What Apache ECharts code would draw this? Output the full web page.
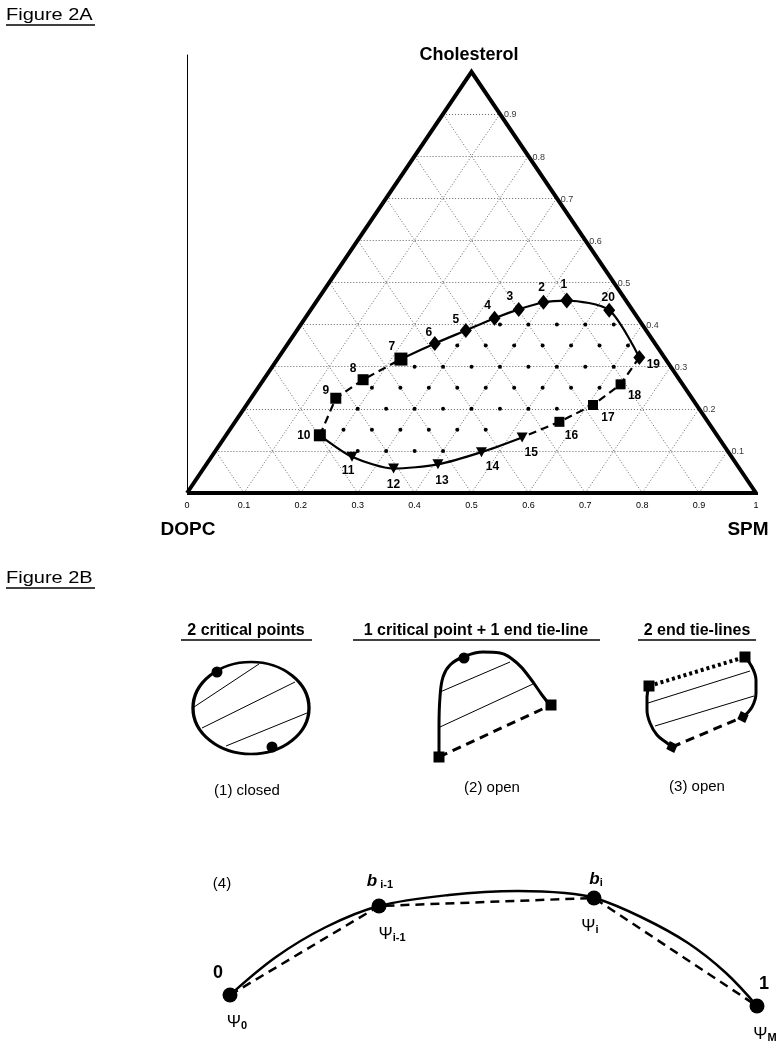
<!DOCTYPE html>
<html><head><meta charset="utf-8">
<script src="https://cdn.jsdelivr.net/npm/echarts@6/dist/echarts.min.js"></script>
<style>html,body{margin:0;padding:0;background:#fff}#c{width:781px;height:1050px}</style>
</head><body><div id="c"></div>
<script>
// ================= Figure 2A data =================
// compositions of the numbered boundary points: SPM fraction and Cholesterol fraction
const pointIds  = [1,2,3,4,5,6,7,8,9,10,11,12,13,14,15,16,17,18,19,20];
const pointSPM  = [0.439,0.400,0.365,0.333,0.297,0.258,0.217,0.175,0.149,0.165,0.247,0.334,0.407,0.469,0.523,0.570,0.609,0.633,0.634,0.525];
const pointChol = [0.457,0.453,0.436,0.415,0.386,0.355,0.318,0.269,0.225,0.137,0.086,0.058,0.068,0.097,0.132,0.169,0.209,0.258,0.322,0.434];
const diamondIds  = [1,2,3,4,5,6,19,20];
const squareIds   = [7,8,9,10,16,17,18];
const triangleIds = [11,12,13,14,15];
const solidUpperPath  = [7,6,5,4,3,2,1,20,19];
const dashedRightPath = [19,18,17,16,15];
const solidLowerPath  = [15,14,13,12,11,10];
const dashedLeftPath  = [10,9,8,7];
// sampled compositions inside the region (small dots): rows by cholesterol
const dotRowChol = [0.40, 0.35, 0.30, 0.25, 0.20, 0.15, 0.10];
const dotRowSPM = [
  [0.35,0.40,0.45,0.50,0.55],
  [0.30,0.35,0.40,0.45,0.50,0.55,0.60],
  [0.25,0.30,0.35,0.40,0.45,0.50,0.55,0.60],
  [0.20,0.25,0.30,0.35,0.40,0.45,0.50,0.55,0.60],
  [0.20,0.25,0.30,0.35,0.40,0.45,0.50,0.55],
  [0.20,0.25,0.30,0.35,0.40,0.45],
  [0.25,0.30,0.35,0.40]
];
const gridLevels = [0.1,0.2,0.3,0.4,0.5,0.6,0.7,0.8,0.9];
const baseTickLabels  = ['0','0.1','0.2','0.3','0.4','0.5','0.6','0.7','0.8','0.9','1'];
const rightTickLabels = ['0.1','0.2','0.3','0.4','0.5','0.6','0.7','0.8','0.9'];

// ================= Figure 2B sketch data (sketch units) =================
const ellipse1 = [251, 708];
const ellipse1Size = [116, 92];
const crit1 = [[217,672],[272,747]];
const ties1 = [[[194,707],[259,664]], [[202,728],[295,682]], [[226,746],[307,713]]];

const curve2 = [[439,756],[439,727],[440,697],[443,677],[450,665],[463,657],[483,652],[500,653],[517,663],[530,678],[542,695],[550,705]];
const ends2 = [[439,757],[551,705]];
const crit2 = [[464,658]];
const ties2 = [[[440,692],[510,662]], [[440,727],[533,684]]];

const squares3 = [[649,686],[745,657]];
const diamonds3 = [[672,747],[743,717]];
const leftCurve3 = [[649,686],[647,697],[647,710],[650,723],[657,735],[667,743],[672,747]];
const rightCurve3 = [[745,657],[752,667],[756,680],[756,693],[752,707],[743,717]];
const ties3 = [[[648,703],[750,671]], [[655,726],[754,696]]];

const curve4 = [[230,995],[276,957],[326,927],[379,906],[449,895],[518,891],[565,893],[595,898],[641,917],[688,943],[726,973],[757,1006]];
const chords4 = [[230,995],[379,906],[594,898],[757,1006]];

// ================= helpers / styles =================
const FONT = "'Liberation Sans', Arial, sans-serif";
const toXY = (s, c) => [s + c / 2, c];
const pt = id => toXY(pointSPM[id - 1], pointChol[id - 1]);
const labelOffset = {1:[-3,-16],2:[-2,-15],3:[-9,-13],4:[-7,-13],5:[-10,-11],6:[-6,-11],7:[-9,-12],8:[-10,-11],9:[-10,-8],10:[-16,0],
  11:[-4,14],12:[0,16],13:[4,16],14:[11,15],15:[9,15],16:[12,14],17:[15,13],18:[14,11],19:[14,7],20:[-1,-13]};
const markerSize = {7:[13,13],10:[12,12],8:[11,11],9:[11,11],16:[10,10],17:[10,10],18:[10,10],1:[13,16]};
const BLACK = {color:'#000', opacity:1};

const numLabel = {show:true, position:'inside', formatter: p => p.data.id, color:'#000', fontFamily:FONT, fontWeight:'bold', fontSize:12};
function markerData(ids, defSize){
  return ids.map(id => ({id: String(id), value: pt(id), symbolSize: markerSize[id] || defSize, label:{offset: labelOffset[id]}}));
}

const gridLines = [];
gridLevels.forEach(L => {
  gridLines.push({coords:[toXY(0,L), toXY(1-L,L)]});
  gridLines.push({coords:[toXY(L,0), toXY(L,1-L)]});
  gridLines.push({coords:[toXY(1-L,0), toXY(0,1-L)]});
});
const dots = [];
dotRowChol.forEach((c, i) => dotRowSPM[i].forEach(s => dots.push(toXY(s, c))));

const series = [
  {type:'lines', coordinateSystem:'cartesian2d', xAxisIndex:0, yAxisIndex:0, polyline:false, silent:true, z:1,
   lineStyle:{color:'#666', width:1, type:[1,2], opacity:1}, data: gridLines},
  {type:'line', xAxisIndex:0, yAxisIndex:0, symbol:'none', silent:true, z:3,
   lineStyle:{color:'#000', width:4, join:'miter'}, data:[toXY(0,0), toXY(0,1), toXY(1,0), toXY(0,0)]},
  {type:'scatter', xAxisIndex:0, yAxisIndex:0, symbol:'circle', symbolSize:4, itemStyle:BLACK, silent:true, z:4, data: dots},
  {type:'line', xAxisIndex:0, yAxisIndex:0, symbol:'none', smooth:0.25, z:5, lineStyle:{color:'#000', width:2.2}, data: solidUpperPath.map(pt)},
  {type:'line', xAxisIndex:0, yAxisIndex:0, symbol:'none', z:5, lineStyle:{color:'#000', width:2.2, type:[8,5]}, data: dashedRightPath.map(pt)},
  {type:'line', xAxisIndex:0, yAxisIndex:0, symbol:'none', smooth:0.25, z:5, lineStyle:{color:'#000', width:2.2}, data: solidLowerPath.map(pt)},
  {type:'line', xAxisIndex:0, yAxisIndex:0, symbol:'none', z:5, lineStyle:{color:'#000', width:2.2, type:[8,5]}, data: dashedLeftPath.map(pt)},
  {type:'scatter', xAxisIndex:0, yAxisIndex:0, symbol:'diamond', itemStyle:BLACK, z:6, label:numLabel, data: markerData(diamondIds,[12,15])},
  {type:'scatter', xAxisIndex:0, yAxisIndex:0, symbol:'rect', itemStyle:BLACK, z:6, label:numLabel, data: markerData(squareIds,[11,11])},
  {type:'scatter', xAxisIndex:0, yAxisIndex:0, symbol:'triangle', symbolRotate:180, itemStyle:BLACK, z:6, label:numLabel, data: markerData(triangleIds,[11,10])},
  {type:'scatter', xAxisIndex:0, yAxisIndex:0, symbolSize:0, silent:true, z:6,
   label:{show:true, position:'right', distance:4, offset:[0,1], formatter: p => rightTickLabels[p.dataIndex], fontFamily:FONT, fontSize:9, color:'#000'},
   data: gridLevels.map(L => toXY(1-L, L))},

  // ---- Figure 2B ----
  {type:'scatter', xAxisIndex:1, yAxisIndex:1, symbol:'circle', symbolSize: ellipse1Size, silent:true, z:2,
   itemStyle:{color:'rgba(0,0,0,0)', borderColor:'#000', borderWidth:3, opacity:1}, data:[ellipse1]},
  {type:'lines', coordinateSystem:'cartesian2d', xAxisIndex:1, yAxisIndex:1, silent:true, z:2,
   lineStyle:{color:'#000', width:1, opacity:1}, data: ties1.concat(ties2, ties3).map(c => ({coords:c}))},
  {type:'scatter', xAxisIndex:1, yAxisIndex:1, symbol:'circle', symbolSize:11, itemStyle:BLACK, silent:true, z:5, data: crit1.concat(crit2)},
  {type:'line', xAxisIndex:1, yAxisIndex:1, symbol:'none', smooth:0.4, z:3, lineStyle:{color:'#000', width:3}, data: curve2},
  {type:'line', xAxisIndex:1, yAxisIndex:1, symbol:'none', z:3, lineStyle:{color:'#000', width:3, type:[9,6]}, data: ends2},
  {type:'scatter', xAxisIndex:1, yAxisIndex:1, symbol:'rect', symbolSize:11, itemStyle:BLACK, silent:true, z:5, data: ends2.concat(squares3)},
  {type:'line', xAxisIndex:1, yAxisIndex:1, symbol:'none', z:3, lineStyle:{color:'#000', width:4, type:[3,3]}, data: squares3},
  {type:'line', xAxisIndex:1, yAxisIndex:1, symbol:'none', z:3, lineStyle:{color:'#000', width:3, type:[9,6]}, data: diamonds3},
  {type:'line', xAxisIndex:1, yAxisIndex:1, symbol:'none', smooth:0.4, z:3, lineStyle:{color:'#000', width:3}, data: leftCurve3},
  {type:'line', xAxisIndex:1, yAxisIndex:1, symbol:'none', smooth:0.4, z:3, lineStyle:{color:'#000', width:3}, data: rightCurve3},
  {type:'scatter', xAxisIndex:1, yAxisIndex:1, symbol:'diamond', symbolSize:[12,13], symbolRotate:20, itemStyle:BLACK, silent:true, z:5, data: diamonds3},
  {type:'line', xAxisIndex:1, yAxisIndex:1, symbol:'none', smooth:0.35, z:3, lineStyle:{color:'#000', width:2.5}, data: curve4},
  {type:'line', xAxisIndex:1, yAxisIndex:1, symbol:'none', z:3, lineStyle:{color:'#000', width:2.5, type:[9,6]}, data: chords4},
  {type:'scatter', xAxisIndex:1, yAxisIndex:1, symbol:'circle', symbolSize:15, itemStyle:BLACK, silent:true, z:5, data: chords4}
];

function txt(x, y, text, font, align, extra){
  return Object.assign({type:'text', x:x, y:y, z:10, style:{text:text, font:font, fill:'#000', textAlign:align||'left', textVerticalAlign:'middle'}}, extra||{});
}
function uline(x1, x2, y){
  return {type:'line', z:10, shape:{x1:x1, y1:y, x2:x2, y2:y}, style:{stroke:'#000', lineWidth:1.5}};
}
const subRich = {
  b:{font:"italic bold 17px " + FONT, fill:'#000'},
  s:{font:"bold 11px " + FONT, fill:'#000', padding:[8,0,0,0]},
  p:{font:"17px " + FONT, fill:'#000'},
  ps:{font:"bold 11px " + FONT, fill:'#000', padding:[8,0,0,0]}
};
function rich(x, y, text){
  return {type:'text', x:x, y:y, z:10, style:{text:text, rich:subRich, textAlign:'center', textVerticalAlign:'middle'}};
}

const graphics = [
  txt(6, 16, 'Figure 2A', "16px " + FONT, 'left', {scaleX:1.25}), uline(6, 95, 25),
  txt(469, 55, 'Cholesterol', "bold 18px " + FONT, 'center'),
  txt(188, 530, 'DOPC', "bold 19px " + FONT, 'center'),
  txt(748, 530, 'SPM', "bold 19px " + FONT, 'center'),
  txt(6, 579, 'Figure 2B', "16px " + FONT, 'left', {scaleX:1.25}), uline(6, 95, 588),
  txt(246, 631, '2 critical points', "bold 16px " + FONT, 'center'), uline(181, 312, 640),
  txt(476, 631, '1 critical point + 1 end tie-line', "bold 16px " + FONT, 'center'), uline(353, 600, 640),
  txt(697, 631, '2 end tie-lines', "bold 16px " + FONT, 'center'), uline(638, 756, 640),
  txt(247, 791, '(1) closed', "15px " + FONT, 'center'),
  txt(492, 788, '(2) open', "15px " + FONT, 'center'),
  txt(697, 787, '(3) open', "15px " + FONT, 'center'),
  txt(222, 884, '(4)', "15px " + FONT, 'center'),
  txt(218, 973, '0', "bold 18px " + FONT, 'center'),
  txt(764, 984, '1', "bold 18px " + FONT, 'center'),
  rich(380, 881, '{b|b}{s| i-1}'),
  rich(596, 879, '{b|b}{s|i}'),
  rich(392, 934, '{p|Ψ}{ps|i-1}'),
  rich(590, 926, '{p|Ψ}{ps|i}'),
  rich(237, 1022, '{p|Ψ}{ps|0}'),
  rich(765, 1034, '{p|Ψ}{ps|M}')
];

const chart = echarts.init(document.getElementById('c'), null, {renderer:'canvas'});
chart.setOption({
  backgroundColor:'#fff',
  animation:false,
  grid:[
    {left:187, top:55, width:569, height:438},
    {left:0, top:560, width:781, height:490}
  ],
  xAxis:[
    {type:'value', gridIndex:0, min:0, max:1, interval:0.1,
     axisLine:{show:false}, axisTick:{show:false}, splitLine:{show:false},
     axisLabel:{show:true, margin:8, fontSize:9, fontFamily:FONT, color:'#000',
       formatter: v => baseTickLabels[Math.round(v * 10)]}},
    {type:'value', gridIndex:1, min:0, max:781, show:false}
  ],
  yAxis:[
    {type:'value', gridIndex:0, min:0, max:1.04,
     axisLine:{show:true, onZero:false, lineStyle:{color:'#000', width:1}}, axisTick:{show:false},
     axisLabel:{show:false}, splitLine:{show:false}},
    {type:'value', gridIndex:1, min:560, max:1050, inverse:true, show:false}
  ],
  series: series,
  graphic: graphics
});
</script></body></html>
